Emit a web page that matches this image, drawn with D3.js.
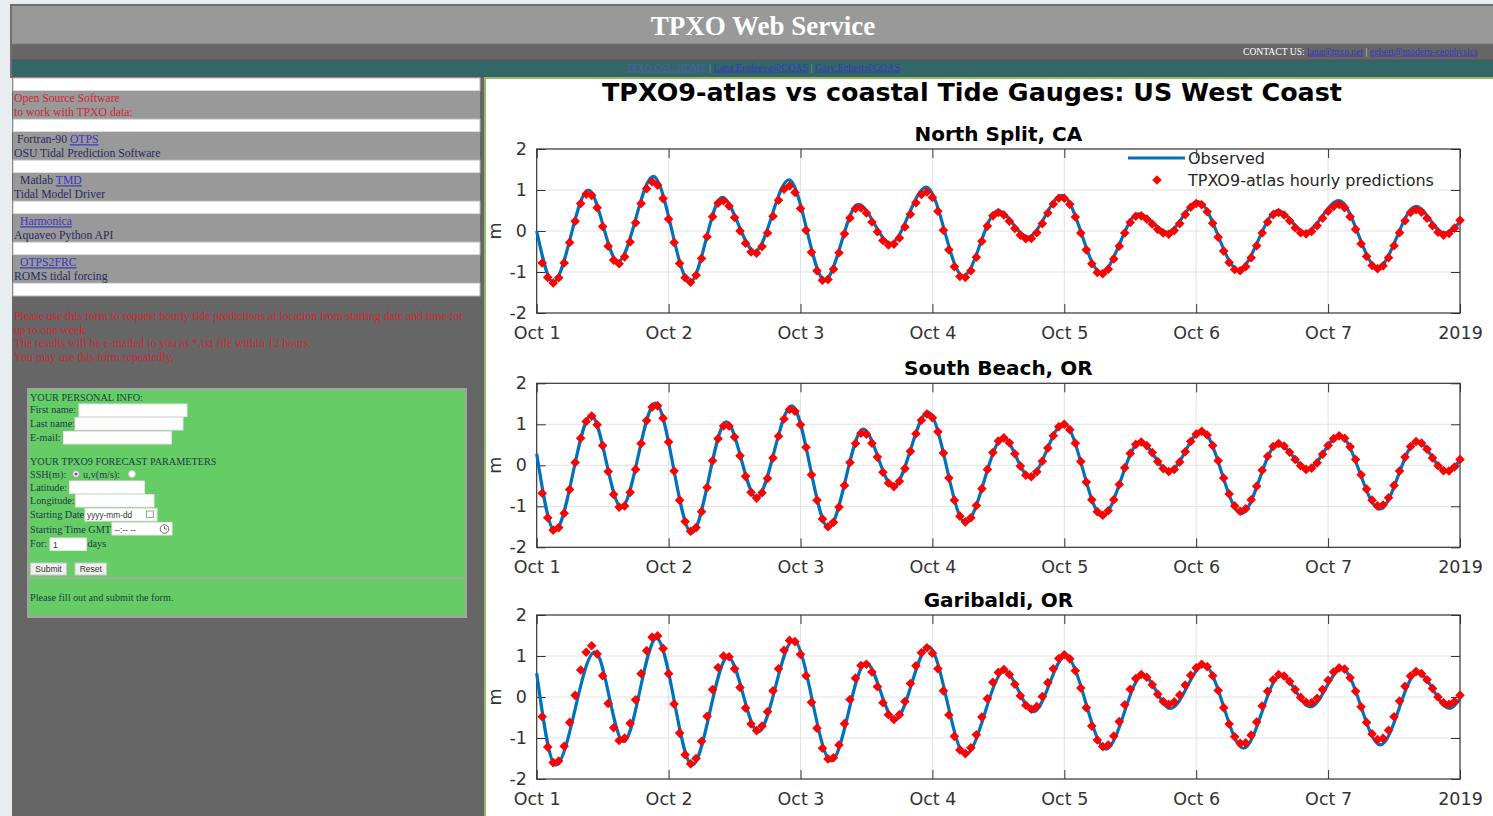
<!DOCTYPE html>
<html>
<head>
<meta charset="utf-8">
<title>TPXO Web Service</title>
<script src="https://cdn.jsdelivr.net/npm/d3@7/dist/d3.min.js"></script>
<style>
  html, body { margin: 0; padding: 0; }
  body { width: 1493px; height: 816px; overflow: hidden; background: #e8eef0; }
  svg { display: block; }
</style>
</head>
<body>
<script>
// ---- chart data ----
const stationNames = ["North Split, CA", "South Beach, OR", "Garibaldi, OR"];
const tickLabels = ["Oct 1", "Oct 2", "Oct 3", "Oct 4", "Oct 5", "Oct 6", "Oct 7", "2019"];
const yTickValues = [-2, -1, 0, 1, 2];
const yTickLabels = ["-2", "-1", "0", "1", "2"];

// observed gauge record: turning points (hours after Oct 1 00:00 UTC) and level in m
const northSplitObsHours = [0, 3, 9.4, 14.8, 21.2, 27.9, 33.7, 39.7, 45.9, 52.4, 58.5, 64.4, 70.9, 77.6, 83.9, 89.4, 95.6, 102.7, 109.5, 114.8, 120.3, 127.7, 134.9, 139.8, 146, 153, 160, 165.1, 168];
const northSplitObs = [0.0, -1.25, 1.0, -0.75, 1.33, -1.25, 0.82, -0.5, 1.25, -1.2, 0.65, -0.3, 1.07, -1.1, 0.5, -0.15, 0.87, -1.02, 0.42, -0.03, 0.72, -0.95, 0.5, -0.03, 0.74, -0.9, 0.6, -0.05, 0.22];
const southBeachObsHours = [0, 3.3, 9.9, 15.4, 21.6, 28.2, 34.5, 40, 46.4, 53.1, 59.4, 64.9, 71.2, 78, 84.9, 89.7, 95.9, 102.9, 109.8, 115.1, 121, 128.2, 134.9, 140.3, 146.1, 153.4, 160.2, 165.5, 168];
const southBeachObs = [0.28, -1.6, 1.22, -1.03, 1.52, -1.65, 1.06, -0.79, 1.45, -1.52, 0.88, -0.52, 1.3, -1.4, 0.67, -0.29, 1.02, -1.24, 0.57, -0.15, 0.85, -1.18, 0.53, -0.09, 0.73, -1.07, 0.59, -0.15, 0.12];
const garibaldiObsHours = [0, 3.45, 10.6, 15.8, 21.8, 28.3, 34.8, 40.3, 46.7, 53.6, 59.9, 65.2, 71.3, 78, 85.1, 90.4, 96.2, 103.6, 110.3, 115.3, 121.4, 128.6, 135.4, 140.8, 146.5, 153.5, 160.3, 166.1, 168];
const garibaldiObs = [0.58, -1.66, 1.1, -1.09, 1.43, -1.66, 0.98, -0.85, 1.39, -1.56, 0.84, -0.56, 1.23, -1.41, 0.63, -0.36, 1.0, -1.27, 0.54, -0.28, 0.78, -1.25, 0.54, -0.24, 0.7, -1.17, 0.6, -0.28, -0.05];

// TPXO9-atlas hourly predictions, hour 1 .. hour 168
const northSplitPred = [
  -0.78, -1.13, -1.27, -1.14, -0.78, -0.28, 0.24, 0.67, 0.90,
  0.87, 0.57, 0.11, -0.37, -0.71,
  -0.80, -0.63, -0.27, 0.20, 0.67, 1.03, 1.20,
  1.12, 0.79, 0.29, -0.28, -0.79, -1.14,
  -1.25, -1.08, -0.67, -0.14, 0.35, 0.68,
  0.74, 0.61, 0.33, 0.00, -0.30, -0.51,
  -0.54, -0.38, -0.05, 0.36, 0.75, 1.02,
  1.10, 0.94, 0.55, 0.02, -0.52, -0.97, -1.20,
  -1.18, -0.93, -0.53, -0.07, 0.32, 0.55,
  0.56, 0.44, 0.22, -0.02, -0.23, -0.34,
  -0.32, -0.17, 0.10, 0.41, 0.69, 0.89,
  0.95, 0.82, 0.48, 0.02, -0.46, -0.87, -1.11,
  -1.13, -0.97, -0.64, -0.25, 0.12, 0.37,
  0.45, 0.39, 0.24, 0.06, -0.10, -0.19,
  -0.18, -0.04, 0.18, 0.44, 0.66, 0.80,
  0.80, 0.65, 0.34, -0.05, -0.46, -0.80, -1.01,
  -1.04, -0.93, -0.68, -0.37, -0.05, 0.21, 0.36,
  0.37, 0.29, 0.17, 0.04, -0.05,
  -0.08, 0.01, 0.18, 0.40, 0.58, 0.67,
  0.64, 0.47, 0.19, -0.15, -0.49, -0.77, -0.94,
  -0.97, -0.87, -0.65, -0.36, -0.05, 0.22, 0.40,
  0.45, 0.39, 0.25, 0.08, -0.04,
  -0.07, -0.01, 0.13, 0.31, 0.48, 0.60, 0.65,
  0.57, 0.35, 0.04, -0.31, -0.62, -0.84, -0.92,
  -0.85, -0.65, -0.36, -0.04, 0.25, 0.45, 0.52,
  0.46, 0.31, 0.13, -0.03, -0.10,
  -0.06, 0.07, 0.26];
const southBeachPred = [
  -0.68, -1.28, -1.58,
  -1.52, -1.17, -0.59, 0.07, 0.66, 1.07,
  1.20, 0.99, 0.48, -0.15, -0.71, -1.02,
  -0.99, -0.66, -0.10, 0.53, 1.09, 1.42,
  1.45, 1.15, 0.57, -0.14, -0.85, -1.37, -1.61,
  -1.52, -1.13, -0.54, 0.11, 0.65, 0.96,
  0.96, 0.69, 0.23, -0.27, -0.66, -0.80,
  -0.67, -0.32, 0.18, 0.71, 1.13, 1.36,
  1.32, 0.99, 0.44, -0.23, -0.85, -1.31, -1.50,
  -1.39, -1.02, -0.49, 0.07, 0.53, 0.78,
  0.76, 0.54, 0.20, -0.17, -0.43,
  -0.52, -0.39, -0.08, 0.34, 0.77, 1.10, 1.25,
  1.16, 0.82, 0.30, -0.31, -0.85, -1.24, -1.38,
  -1.28, -0.98, -0.57, -0.10, 0.31, 0.59,
  0.67, 0.55, 0.28, -0.02, -0.24,
  -0.28, -0.16, 0.10, 0.42, 0.72, 0.94,
  1.00, 0.87, 0.54, 0.09, -0.41, -0.84, -1.13,
  -1.22, -1.11, -0.84, -0.47, -0.06, 0.29, 0.51,
  0.57, 0.48, 0.31, 0.09, -0.08, -0.15,
  -0.10, 0.08, 0.33, 0.58, 0.76, 0.83,
  0.74, 0.48, 0.11, -0.31, -0.70, -0.99, -1.12,
  -1.06, -0.84, -0.51, -0.12, 0.22, 0.46,
  0.53, 0.47, 0.32, 0.14, -0.01, -0.10,
  -0.07, 0.06, 0.27, 0.48, 0.65, 0.72,
  0.66, 0.45, 0.14, -0.23, -0.58, -0.85, -0.99,
  -0.97, -0.79, -0.49, -0.14, 0.20, 0.46, 0.58,
  0.54, 0.39, 0.18, -0.01, -0.13,
  -0.14, -0.04, 0.14];
const garibaldiPred = [
  -0.48, -1.22, -1.60,
  -1.56, -1.20, -0.62, 0.04, 0.66, 1.09, 1.25,
  1.05, 0.52, -0.16, -0.75, -1.06,
  -1.00, -0.64, -0.07, 0.57, 1.13, 1.46,
  1.49, 1.18, 0.57, -0.17, -0.88, -1.41, -1.63,
  -1.50, -1.08, -0.47, 0.18, 0.72, 1.00,
  0.98, 0.69, 0.23, -0.27, -0.66, -0.82,
  -0.71, -0.36, 0.15, 0.69, 1.14, 1.38,
  1.35, 1.04, 0.52, -0.13, -0.76, -1.25, -1.51,
  -1.48, -1.17, -0.65, -0.06, 0.46, 0.77,
  0.80, 0.61, 0.25, -0.14, -0.43, -0.55,
  -0.43, -0.11, 0.33, 0.76, 1.08, 1.20,
  1.07, 0.69, 0.15, -0.44, -0.96, -1.29,
  -1.38, -1.24, -0.92, -0.49, -0.04, 0.36, 0.60,
  0.67, 0.55, 0.31, 0.03, -0.20, -0.30,
  -0.23, 0.01, 0.35, 0.69, 0.94, 1.03,
  0.93, 0.64, 0.22, -0.26, -0.71, -1.05, -1.21,
  -1.17, -0.95, -0.60, -0.19, 0.19, 0.45, 0.55,
  0.48, 0.30, 0.07, -0.11, -0.18,
  -0.12, 0.05, 0.29, 0.53, 0.71, 0.80,
  0.74, 0.52, 0.16, -0.26, -0.66, -0.97, -1.13,
  -1.12, -0.93, -0.61, -0.22, 0.14, 0.42, 0.55,
  0.51, 0.38, 0.18, -0.01, -0.13,
  -0.14, -0.03, 0.18, 0.41, 0.61, 0.71,
  0.68, 0.47, 0.14, -0.24, -0.62, -0.90, -1.04,
  -1.01, -0.81, -0.48, -0.10, 0.26, 0.51, 0.62,
  0.57, 0.42, 0.21, 0.00, -0.14,
  -0.18, -0.11, 0.04];

const startDate = new Date(Date.UTC(2019, 9, 1));
const endDate = new Date(Date.UTC(2019, 9, 8));

// ---- page ----
const SERIF = "'Liberation Serif', 'Times New Roman', serif";
const SANS = "'DejaVu Sans', sans-serif";
const NAVY = "#2b2b60", LINK = "#3737c0", RED = "#cc2a35", FORM_TXT = "#1d3b48";

const svg = d3.select("body").append("svg").attr("width", 1493).attr("height", 816);

function box(x, y, w, h, fill, stroke, sw) {
  return svg.append("rect").attr("x", x).attr("y", y).attr("width", w).attr("height", h)
    .attr("fill", fill).attr("stroke", stroke || "none").attr("stroke-width", sw || 1);
}
function words(x, y, parts, size, anchor) {
  const t = svg.append("text").attr("x", x).attr("y", y)
    .attr("font-family", SERIF).attr("font-size", size).attr("text-anchor", anchor || "start");
  parts.forEach(p => {
    const s = t.append("tspan").attr("fill", p.c).text(p.t);
    if (p.u) s.attr("text-decoration", "underline");
  });
  return t;
}

// header bands
box(0, 0, 1493, 816, "#e8eef0");
box(10, 4, 1500, 40, "#999999");
svg.append("path").attr("d", "M10,5H1493M11,4V78").attr("stroke", "#6f6f6f").attr("stroke-width", 2);
words(763, 34.5, [{t: "TPXO Web Service", c: "#fff"}], 27, "middle").attr("font-weight", "bold");
box(12, 44, 1500, 16, "#666666");
svg.append("line").attr("x1", 12).attr("x2", 1493).attr("y1", 44).attr("y2", 44).attr("stroke", "#7a7a7a");
words(1243, 54.5, [
  {t: "CONTACT US: ", c: "#fff"}, {t: "lana@tpxo.net", c: LINK, u: true},
  {t: " | ", c: "#ddd"}, {t: "egbert@modern-geophysics", c: LINK, u: true}], 9.6);
box(12, 60, 1500, 16, "#336666");
svg.append("line").attr("x1", 12).attr("x2", 1493).attr("y1", 60).attr("y2", 60).attr("stroke", "#555");
words(763, 70.5, [
  {t: "TPXO OSU HOME", c: "#4f5fa8", u: true}, {t: " | ", c: "#88aaaa"},
  {t: "Lana Erofeeva@COAS", c: LINK, u: true}, {t: " | ", c: "#88aaaa"},
  {t: "Gary Egbert@COAS", c: LINK, u: true}], 10, "middle");

// left column and right panel
box(12, 76, 472, 740, "#666666");
svg.append("line").attr("x1", 12).attr("x2", 1493).attr("y1", 76.5).attr("y2", 76.5).attr("stroke", "#555");
box(484, 77, 1030, 739, "#ffffff");
svg.append("path").attr("d", "M485,816V78H1493").attr("fill", "none").attr("stroke", "#8dbd62").attr("stroke-width", 2);

// software list
const listRows = [
  [[{t: "Open Source Software", c: RED}], [{t: "to work with TPXO data:", c: RED}], 14],
  [[{t: "Fortran-90 ", c: NAVY}, {t: "OTPS", c: LINK, u: true}], [{t: "OSU Tidal Prediction Software", c: NAVY}], 17],
  [[{t: "Matlab ", c: NAVY}, {t: "TMD", c: LINK, u: true}], [{t: "Tidal Model Driver", c: NAVY}], 20],
  [[{t: "Harmonica", c: LINK, u: true}], [{t: "Aquaveo Python API", c: NAVY}], 20],
  [[{t: "OTPS2FRC", c: LINK, u: true}], [{t: "ROMS tidal forcing", c: NAVY}], 20]
];
box(13, 78, 467, 13, "#ffffff", "#b8b8b8");
listRows.forEach((r, i) => {
  const top = 91 + i * 41;
  box(13, top, 467, 28, "#999999");
  box(13, top + 28, 467, 13, "#ffffff", "#b8b8b8");
  words(r[2], top + 11.3, r[0], 11.7);
  words(14, top + 24.7, r[1], 11.7);
});

// request text
["Please use this form to request hourly tide predictions at location from starting date and time for",
 "up to one week.",
 "The results will be e-mailed to you as *.txt file within 12 hours.",
 "You may use this form repeatedly."].forEach((s, i) => {
  words(14, 320 + i * 13.6, [{t: s, c: RED}], 11.7);
});

// request form
box(28, 389, 438, 228, "#66cc66", "#a3a3a3", 2);
svg.append("line").attr("x1", 29).attr("x2", 465).attr("y1", 578).attr("y2", 578).attr("stroke", "#9aae9a").attr("stroke-width", 2);
const F = 10.2;
const formLines = [
  ["YOUR PERSONAL INFO:", 30, 401], ["First name:", 30, 413.3], ["Last name:", 30, 427],
  ["E-mail:", 30, 440.7], ["YOUR TPXO9 FORECAST PARAMETERS", 30, 465], ["SSH(m):", 30, 478.3],
  ["u,v(m/s):", 83, 478.3], ["Latitude:", 30, 490.5], ["Longitude:", 30, 504],
  ["Starting Date", 30, 517.7], ["Starting Time GMT", 30, 532.5], ["For:", 30, 546.7],
  ["days", 87.5, 546.7], ["Please fill out and submit the form.", 30, 600.5]
];
formLines.forEach(l => words(l[1], l[2], [{t: l[0], c: FORM_TXT}], F));
[[79, 404, 108], [75, 417.5, 108], [63.5, 431.5, 108], [69.5, 481, 75], [75.5, 494.5, 78.5],
 [85, 508.5, 72], [112, 522.5, 60], [50, 538, 36.5]].forEach(b => box(b[0], b[1], b[2], 12.5, "#ffffff", "#e4e4e4"));
svg.append("circle").attr("cx", 76).attr("cy", 474).attr("r", 3.4).attr("fill", "#fff").attr("stroke", "#999");
svg.append("circle").attr("cx", 76).attr("cy", 474).attr("r", 1.6).attr("fill", "#666");
svg.append("circle").attr("cx", 132).attr("cy", 474).attr("r", 3.4).attr("fill", "#fff").attr("stroke", "#ccc");
const smallSans = (x, y, s, sz) => svg.append("text").attr("x", x).attr("y", y).attr("font-family", "'Liberation Sans', Arial, sans-serif")
  .attr("font-size", sz || 8.3).attr("fill", "#333").text(s);
smallSans(87, 518, "yyyy-mm-dd", 8.3);
box(146.5, 511, 7, 6.5, "#fff", "#888", 0.8);
smallSans(114.5, 532.5, "--:--  --", 8.3);
svg.append("circle").attr("cx", 164.5).attr("cy", 529).attr("r", 4.3).attr("fill", "none").attr("stroke", "#555").attr("stroke-width", 0.9);
svg.append("path").attr("d", "M164.5,526.3V529H166.8").attr("fill", "none").attr("stroke", "#555").attr("stroke-width", 0.9);
smallSans(53, 547.5, "1", 8.8);
box(30.5, 563, 36, 12, "#efefef", "#c8c8c8");
box(75, 563, 31.5, 12, "#efefef", "#c8c8c8");
smallSans(48.5, 572.3, "Submit", 8.5).attr("text-anchor", "middle");
smallSans(90.8, 572.3, "Reset", 8.5).attr("text-anchor", "middle");

// ---- chart ----
const chart = svg.append("g").attr("transform", "translate(485,78)");
const PLOT_X0 = 51.7, PLOT_X1 = 975, PANEL_H = 164;
const panelTops = [71, 305.3, 537];
const BLUE = "#0072bd", AXIS = "#333333", GRID = "#e3e3e3";

chart.append("text").attr("x", 487).attr("y", 23.3).attr("text-anchor", "middle")
  .attr("font-family", SANS).attr("font-weight", "bold").attr("font-size", 25.4).attr("fill", "#000")
  .text("TPXO9-atlas vs coastal Tide Gauges: US West Coast");

const x = d3.scaleUtc().domain([startDate, endDate]).range([PLOT_X0, PLOT_X1]);
const y = d3.scaleLinear().domain([-2, 2]).range([PANEL_H, 0]);
const dayTicks = d3.utcDay.range(startDate, new Date(endDate.getTime() + 1));
const atHour = h => new Date(startDate.getTime() + h * 3600e3);

const squareDiamond = {
  draw(ctx, size) {
    const r = Math.sqrt(size / 2);
    ctx.moveTo(0, -r); ctx.lineTo(r, 0); ctx.lineTo(0, r); ctx.lineTo(-r, 0); ctx.closePath();
  }
};
const diamond = d3.symbol().type(squareDiamond).size(46);

const stations = [
  {name: stationNames[0], obsHours: northSplitObsHours, obs: northSplitObs, pred: northSplitPred},
  {name: stationNames[1], obsHours: southBeachObsHours, obs: southBeachObs, pred: southBeachPred},
  {name: stationNames[2], obsHours: garibaldiObsHours, obs: garibaldiObs, pred: garibaldiPred}
];

const obsLine = d3.line().x(d => x(d.t)).y(d => y(d.v)).curve(d3.curveMonotoneX);

function styleAxis(g, withLabels) {
  g.select(".domain").remove();
  g.attr("font-family", SANS).attr("font-size", 17.5).style("color", AXIS);
  g.selectAll(".tick line").attr("stroke-width", 1);
  if (!withLabels) g.selectAll(".tick text").remove();
}

stations.forEach((st, i) => {
  const p = chart.append("g").attr("transform", `translate(0,${panelTops[i]})`);

  p.selectAll(".vgrid").data(dayTicks.slice(1, -1)).join("line")
    .attr("x1", d => x(d)).attr("x2", d => x(d)).attr("y1", 0).attr("y2", PANEL_H)
    .attr("stroke", GRID);
  p.selectAll(".hgrid").data(yTickValues.slice(1, -1)).join("line")
    .attr("x1", PLOT_X0).attr("x2", PLOT_X1).attr("y1", d => y(d)).attr("y2", d => y(d))
    .attr("stroke", GRID);

  p.append("g").attr("transform", `translate(0,${PANEL_H})`)
    .call(d3.axisBottom(x).tickValues(dayTicks).tickFormat((d, k) => tickLabels[k])
      .tickSizeInner(-9).tickSizeOuter(0).tickPadding(13.3))
    .call(g => styleAxis(g, true));
  p.append("g")
    .call(d3.axisTop(x).tickValues(dayTicks).tickSizeInner(-9).tickSizeOuter(0))
    .call(g => styleAxis(g, false));
  p.append("g").attr("transform", `translate(${PLOT_X0},0)`)
    .call(d3.axisLeft(y).tickValues(yTickValues).tickFormat((d, k) => yTickLabels[k])
      .tickSizeInner(-9).tickSizeOuter(0).tickPadding(9.7))
    .call(g => styleAxis(g, true));
  p.append("g").attr("transform", `translate(${PLOT_X1},0)`)
    .call(d3.axisRight(y).tickValues(yTickValues).tickSizeInner(-9).tickSizeOuter(0))
    .call(g => styleAxis(g, false));

  p.append("rect").attr("x", PLOT_X0).attr("y", 0).attr("width", PLOT_X1 - PLOT_X0).attr("height", PANEL_H)
    .attr("fill", "none").attr("stroke", AXIS).attr("stroke-width", 1.2);

  p.append("text").attr("x", (PLOT_X0 + PLOT_X1) / 2).attr("y", -8.5).attr("text-anchor", "middle")
    .attr("font-family", SANS).attr("font-weight", "bold").attr("font-size", 20).attr("fill", "#000")
    .text(st.name);

  p.append("text").attr("transform", `translate(16,${PANEL_H / 2}) rotate(-90)`).attr("text-anchor", "middle")
    .attr("font-family", SANS).attr("font-size", 17.5).attr("fill", AXIS).text("m");

  const obsPts = st.obsHours.map((h, k) => ({t: atHour(h), v: st.obs[k]}));
  p.append("path").datum(obsPts).attr("d", obsLine)
    .attr("fill", "none").attr("stroke", BLUE).attr("stroke-width", 3.2).attr("stroke-linejoin", "round");

  p.selectAll(".pred").data(st.pred).join("path")
    .attr("transform", (v, k) => `translate(${x(atHour(k + 1))},${y(v)})`)
    .attr("d", diamond).attr("fill", "#ff0000");
});

// legend in the first panel
const lg = chart.append("g");
lg.append("line").attr("x1", 643).attr("x2", 700).attr("y1", 80).attr("y2", 80)
  .attr("stroke", BLUE).attr("stroke-width", 3.2);
lg.append("path").attr("transform", "translate(672,102)").attr("d", diamond).attr("fill", "#ff0000");
[["Observed", 85.8], ["TPXO9-atlas hourly predictions", 107.8]].forEach(l => {
  lg.append("text").attr("x", 703).attr("y", l[1]).attr("font-family", SANS).attr("font-size", 16)
    .attr("fill", "#262626").text(l[0]);
});
</script>
</body>
</html>
